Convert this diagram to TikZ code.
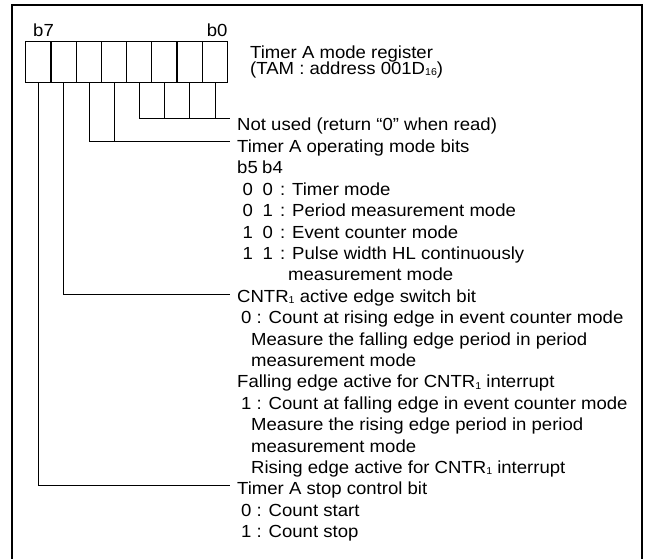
\documentclass[tikz,border=0pt]{standalone}
\usepackage{fontspec}
\setmainfont[FakeStretch=1.06]{Liberation Sans}
\newcommand\mysub[1]{{\fontsize{10}{10}\selectfont\raisebox{-1.5pt}{#1}}}
\tikzset{
  txt/.style={anchor=base west, inner sep=0pt, font=\fontsize{17.5}{20}\selectfont},
  lead/.style={line width=0.9pt},
  cell/.style={minimum width=25.2pt, minimum height=40.6pt, inner sep=0pt},
  regline/.style={line width=1.3pt},
  frame/.style={line width=2pt}
}
\begin{document}
\begin{tikzpicture}[x=1pt,y=-1pt]
\useasboundingbox (0,0) rectangle (645,559);
\clip (0,0) rectangle (645,559);
\draw[frame] (12,5) rectangle (642,620);
% register cells
\foreach \i/\b in {0/7,1/6,2/5,3/4,4/3,5/2,6/1,7/0}
  \node[cell] (c\b) at ({26+25.2*\i+12.6},62) {};
\foreach \b in {6,5,4,3,2,1,0}
  \draw[regline] (c\b.north west) -- (c\b.south west);
\draw[regline] (c7.north west) rectangle (c0.south east);
\node[txt] (lb7) at (33,36.5) {b7};
\node[txt,anchor=base east] (lb0) at (227.6,36.5) {b0};
\node[txt] (title1) at (250,58.5) {Timer A mode register};
\node[txt] (title2) at (250,74.5) {(TAM : address 001D\mysub{16})};
% leader end coordinates
\coordinate (enu) at (230,118.3);
\coordinate (eop) at (230,141.7);
\coordinate (ecn) at (230,294.3);
\coordinate (est) at (230,485);
% leaders
\draw[lead] (c3.south) |- (enu);
\draw[lead] (c2.south) -- (c2.south |- enu);
\draw[lead] (c1.south) -- (c1.south |- enu);
\draw[lead] (c0.south) -- (c0.south |- enu);
\draw[lead] (c5.south) |- (eop);
\draw[lead] (c4.south) -- (c4.south |- eop);
\draw[lead] (c6.south) |- (ecn);
\draw[lead] (c7.south) |- (est);
% texts
\node[txt] (t0) at (237,{131+21.4*0}) {Not used (return “0” when read)};
\node[txt] (t1) at (237,{131+21.4*1}) {Timer A operating mode bits};
\node[txt] (t2) at (237,{131+21.4*2}) {\makebox[25pt][l]{b5}b4};
\node[txt] (t3) at (242.5,{131+21.4*3}) {\makebox[20pt][l]{0}\makebox[17.5pt][l]{0}: Timer mode};
\node[txt] (t4) at (242.5,{131+21.4*4}) {\makebox[20pt][l]{0}\makebox[17.5pt][l]{1}: Period measurement mode};
\node[txt] (t5) at (242.5,{131+21.4*5}) {\makebox[20pt][l]{1}\makebox[17.5pt][l]{0}: Event counter mode};
\node[txt] (t6) at (242.5,{131+21.4*6}) {\makebox[20pt][l]{1}\makebox[17.5pt][l]{1}: Pulse width HL continuously};
\node[txt] (t7) at (288,{131+21.4*7}) {measurement mode};
\node[txt] (t8) at (237,{131+21.4*8}) {CNTR\mysub{1} active edge switch bit};
\node[txt] (t9) at (241,{131+21.4*9}) {0 : Count at rising edge in event counter mode};
\node[txt] (t10) at (251,{131+21.4*10}) {Measure the falling edge period in period};
\node[txt] (t11) at (251,{131+21.4*11}) {measurement mode};
\node[txt] (t12) at (237,{131+21.4*12}) {Falling edge active for CNTR\mysub{1} interrupt};
\node[txt] (t13) at (241,{131+21.4*13}) {1 : Count at falling edge in event counter mode};
\node[txt] (t14) at (251,{131+21.4*14}) {Measure the rising edge period in period};
\node[txt] (t15) at (251,{131+21.4*15}) {measurement mode};
\node[txt] (t16) at (251,{131+21.4*16}) {Rising edge active for CNTR\mysub{1} interrupt};
\node[txt] (t17) at (237,{131+21.4*17}) {Timer A stop control bit};
\node[txt] (t18) at (241,{131+21.4*18}) {0 : Count start};
\node[txt] (t19) at (241,{131+21.4*19}) {1 : Count stop};
\end{tikzpicture}
\end{document}
